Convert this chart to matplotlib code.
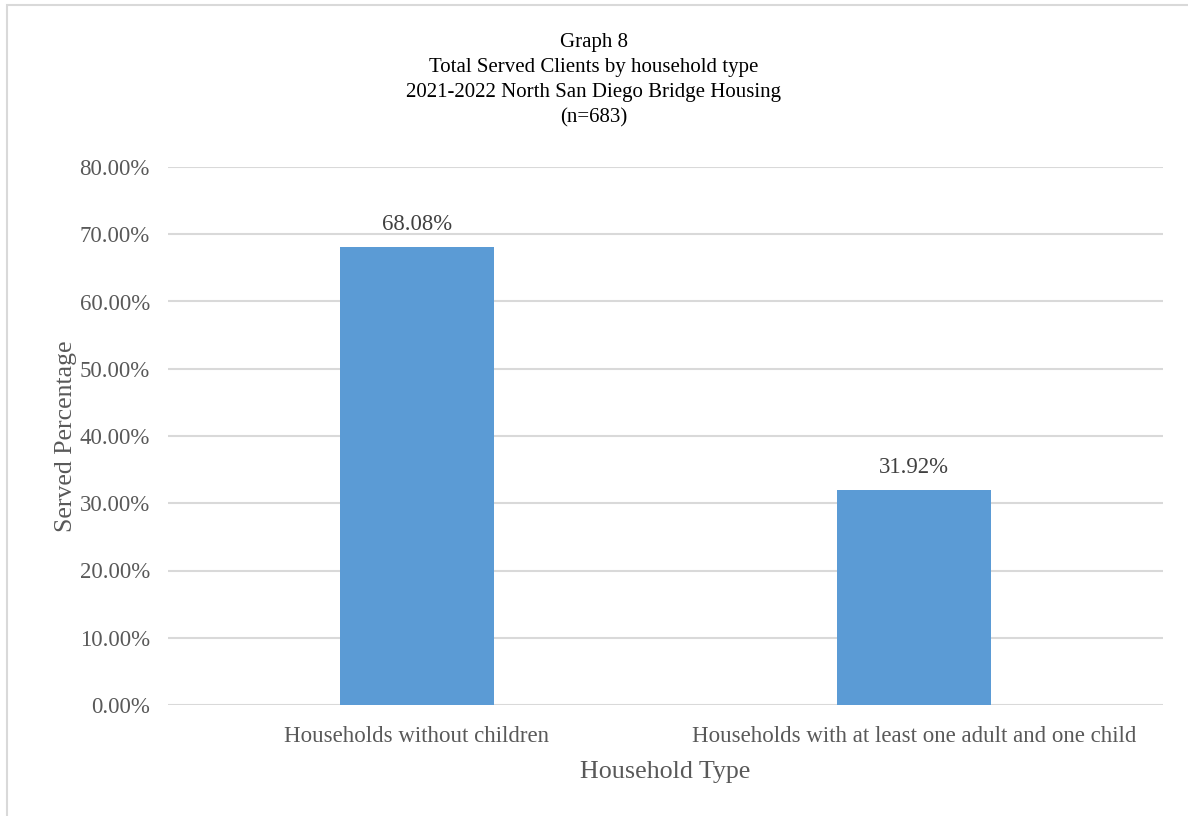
import numpy as np
import matplotlib.pyplot as plt
from matplotlib.ticker import PercentFormatter
from matplotlib.patches import Rectangle

categorias = ['Households without children', 'Households with at least one adult and one child']
percentuais = [68.08, 31.92]
titulo = 'Graph 8\nTotal Served Clients by household type\n2021-2022 North San Diego Bridge Housing\n(n=683)'

plt.rcParams['font.family'] = ['Liberation Serif', 'DejaVu Serif']

fig = plt.figure(figsize=(11.88, 8.16), dpi=100)
ax = fig.add_axes([168/1188, 1 - 705/816, (1163-168)/1188, (705-167)/816])

# moldura cinza clara do grafico
fig.patches.append(Rectangle((7/1188, -0.1), 1.2, 1 - 5/816 + 0.1, transform=fig.transFigure,
                             fill=False, edgecolor='#d9d9d9', linewidth=1.5))

x = np.arange(len(categorias))
barras = ax.bar(x, percentuais, width=0.31, color='#5b9bd5', zorder=3)
for b, v in zip(barras, percentuais):
    ax.text(b.get_x() + b.get_width()/2, v + 1.8, f'{v:.2f}%', ha='center', va='bottom',
            fontsize=16.4, color='#404040')

ax.set_xlim(-0.5, 1.5)
ax.set_ylim(0, 80)
ax.set_yticks(np.arange(0, 81, 10))
ax.yaxis.set_major_formatter(PercentFormatter(decimals=2))
ax.set_xticks(x)
ax.set_xticklabels(categorias)
ax.tick_params(axis='both', length=0, labelsize=16.5, labelcolor='#595959')
ax.tick_params(axis='x', pad=15)
ax.tick_params(axis='y', pad=13)
ax.grid(axis='y', color='#d9d9d9', linewidth=1.5, zorder=0)
for s in ax.spines.values():
    s.set_visible(False)

ax.set_xlabel('Household Type', fontsize=18.7, color='#595959', labelpad=10)
ax.set_ylabel('Served Percentage', fontsize=18.5, color='#595959', labelpad=2)
fig.text(0.5, 1 - 33/816, titulo, ha='center', va='top', fontsize=15, color='#000000',
         linespacing=1.42)

fig.savefig('out.png', dpi=100)
